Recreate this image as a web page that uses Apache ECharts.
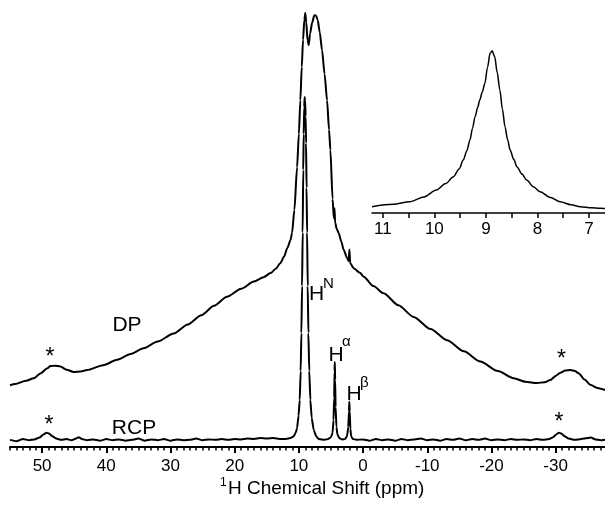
<!DOCTYPE html>
<html>
<head>
<meta charset="utf-8">
<script src="https://cdn.jsdelivr.net/npm/echarts@6/dist/echarts.min.js"></script>
<style>
  html, body { margin: 0; padding: 0; background: #fff; }
  #chart { width: 605px; height: 509px; }
</style>
</head>
<body>
<div id="chart"></div>
<script>
// 1H spectra: DP (offset up) and RCP, values as [ppm, intensity]
const dpSpectrum = [
  [55, 13.8], [54.2, 14.1], [52.5, 14.8], [51.3, 15.4], [50.2, 16.5], [49.2, 17.6],
  [48.7, 18.1], [48.0, 18.2], [47.15, 18.0], [46.2, 17.3], [45.1, 16.8], [44.0, 16.9],
  [43.0, 17.2], [40.5, 18.3], [38.3, 19.5], [36.2, 20.8], [34.2, 22.1], [32, 23.6],
  [29.5, 25.4], [27.3, 27.4], [25.2, 29.5], [23.2, 31.6], [21.2, 33.6], [19.0, 35.4],
  [17.0, 37.0], [15.5, 38.0], [14.4, 38.9], [13.6, 39.9], [12.9, 41.1], [12.3, 42.6],
  [11.8, 44.5], [11.3, 46.3], [11.06, 47.9], [10.7, 53], [10.28, 62.6], [10.0, 70],
  [9.77, 77.6], [9.55, 85], [9.35, 91.1], [9.15, 95.5], [9.0, 97.1], [8.85, 95],
  [8.65, 91], [8.47, 89.9], [8.25, 92.5], [7.94, 94.9], [7.59, 96.6], [7.3, 96.5],
  [7.07, 95.5], [6.75, 92.8], [6.39, 88.8], [6.0, 83.5], [5.61, 77.6], [5.3, 71],
  [5.09, 66.4], [4.75, 55.5], [4.55, 51.2], [4.45, 53.4], [4.35, 50.2], [4.1, 48.8],
  [3.8, 47.9], [3.4, 46], [3.02, 44.1], [2.49, 42.3], [2.25, 41.6], [2.13, 44.2],
  [2.0, 41.1], [1.46, 40.0], [0.5, 39.0], [-0.09, 38.1], [-1.6, 36.0], [-3.2, 34.4],
  [-5.5, 31.7], [-7.88, 29.1], [-10.5, 26.4], [-13.08, 23.9], [-15.7, 21.4], [-18.27, 19.1],
  [-21, 17.0], [-23.46, 15.4], [-25.3, 14.6], [-27.1, 14.3], [-28.3, 14.5], [-29.18, 15.0],
  [-30.0, 15.9], [-30.74, 16.6], [-31.5, 17.1], [-32.3, 17.2], [-33.0, 17.0], [-33.58, 16.5],
  [-34.5, 15.1], [-35.4, 13.9], [-36.5, 13.2], [-37.7, 12.8], [-38, 12.7]
];

const rcpSpectrum = [
  [55, 1.6], [54, 1.3], [53, 1.8], [52, 1.5], [51.2, 1.7], [50.4, 2.1], [49.8, 2.8],
  [49.3, 3.2], [48.9, 3.0], [48.4, 2.4], [47.8, 1.9], [47.0, 1.6], [46.2, 1.8], [45.4, 1.5],
  [44.7, 1.9], [44.3, 2.2], [43.8, 1.8], [43.0, 1.5], [42.0, 1.7], [41.0, 1.4], [40.0, 1.8],
  [39.0, 1.5], [38.0, 1.7], [37.0, 1.4], [36.0, 1.6], [35.0, 1.9], [34.0, 1.4], [33.0, 1.7],
  [32.0, 1.5], [31.0, 1.8], [30.0, 1.4], [29.0, 1.7], [28.0, 1.5], [27.0, 1.6], [26.0, 1.9],
  [25.0, 1.5], [24.0, 1.7], [23.0, 1.6], [22.0, 1.8], [21.0, 1.6], [20.0, 1.8], [19.0, 1.7],
  [18.0, 1.9], [17.0, 1.8], [16.0, 2.0], [15.0, 1.9], [14.0, 2.0], [13.0, 1.8], [12.0, 1.8],
  [11.3, 2.0], [10.8, 2.4], [10.5, 3.2], [10.28, 4.2], [10.05, 7], [9.87, 10.5], [9.72, 17],
  [9.61, 25.5], [9.5, 36], [9.41, 48], [9.32, 62], [9.25, 70], [9.17, 76], [9.1, 78.3],
  [9.03, 77.5], [8.95, 74], [8.88, 68], [8.8, 58], [8.72, 48], [8.62, 36], [8.52, 25.5],
  [8.38, 17], [8.21, 10.5], [8.0, 6.5], [7.69, 3.8], [7.3, 2.4], [6.92, 1.8], [6.0, 1.6],
  [5.4, 1.8], [5.0, 2.2], [4.75, 3.2], [4.6, 6], [4.5, 11], [4.44, 17], [4.4, 19],
  [4.35, 15], [4.28, 9], [4.15, 4.5], [4.0, 2.8], [3.7, 2.0], [3.3, 1.7], [2.8, 1.8],
  [2.5, 2.4], [2.3, 4.5], [2.2, 8], [2.14, 10.1], [2.08, 8], [1.98, 4], [1.85, 2.4],
  [1.6, 1.8], [1.0, 1.6], [0, 1.7], [-1, 1.4], [-2, 1.8], [-3, 1.5], [-4, 1.7], [-5, 1.4],
  [-6, 1.8], [-7, 1.5], [-8, 1.7], [-9, 1.9], [-10, 1.5], [-11, 1.7], [-12, 1.4], [-13, 1.8],
  [-14, 1.6], [-15, 1.9], [-16, 1.5], [-17, 1.8], [-18, 1.6], [-19, 1.9], [-20, 1.5],
  [-21, 1.7], [-22, 1.5], [-23, 1.8], [-24, 1.6], [-25, 1.7], [-26, 1.5], [-27, 1.8],
  [-28, 1.6], [-29, 1.8], [-29.6, 2.2], [-30.1, 2.8], [-30.5, 3.2], [-30.9, 3.0], [-31.4, 2.4],
  [-32.0, 1.9], [-33.0, 1.6], [-34.0, 1.8], [-35.0, 2.0], [-35.5, 2.1], [-36.2, 1.7],
  [-37, 1.5], [-38, 1.7]
];

// inset: zoom on the HN line of the DP spectrum
const insetSpectrum = [
  [11.21, 3.6], [10.8, 5.0], [10.48, 6.5], [10.2, 9.3], [9.96, 13.3], [9.78, 17],
  [9.63, 21.0], [9.52, 25.5], [9.44, 30.6], [9.37, 36], [9.31, 42.2], [9.26, 49],
  [9.21, 55.7], [9.16, 61], [9.12, 65.3], [9.07, 70], [9.02, 75.0], [8.97, 84],
  [8.92, 92.3], [8.88, 93.8], [8.83, 90.4], [8.78, 81], [8.73, 71.1], [8.68, 60],
  [8.63, 49.9], [8.58, 42.5], [8.53, 36.4], [8.46, 31], [8.40, 26.8], [8.3, 22.5],
  [8.21, 19.1], [8.08, 15.2], [7.95, 12.3], [7.75, 9.0], [7.56, 6.5], [7.35, 4.8],
  [7.17, 3.6], [6.95, 3.0], [6.79, 2.7], [6.69, 2.6]
];

const mainTicks = [50, 40, 30, 20, 10, 0, -10, -20, -30];
const insetLabels = [11, 10, 9, 8, 7];
const insetTicks = [11, 10.5, 10, 9.5, 9, 8.5, 8, 7.5, 7];

const FONT = "'Liberation Sans', Arial, sans-serif";
const INK = '#000';

const chart = echarts.init(document.getElementById('chart'), null, { renderer: 'canvas' });

function txt(text, x, y, size, align, valign) {
  return {
    type: 'text', x: x, y: y, silent: true,
    style: {
      text: text, fill: INK, font: size + 'px ' + FONT,
      textAlign: align || 'left', textVerticalAlign: valign || 'middle'
    }
  };
}

chart.setOption({
  animation: false,
  backgroundColor: '#fff',
  grid: [
    { left: 10, right: -2, top: 0, bottom: 62, outerBoundsMode: 'none' },
    { left: 372, right: 0, top: 40, bottom: 296, outerBoundsMode: 'none' }
  ],
  xAxis: [
    {
      gridIndex: 0, type: 'value', min: -38, max: 55, inverse: true, position: 'bottom',
      axisLine: { show: true, onZero: false, lineStyle: { color: INK, width: 2 } },
      axisTick: { show: true, customValues: mainTicks, length: 6, lineStyle: { color: INK, width: 2 } },
      axisLabel: { customValues: mainTicks, margin: 11, fontSize: 17, color: INK, fontFamily: FONT },
      splitLine: { show: false }
    },
    {
      gridIndex: 0, type: 'value', min: -38, max: 55, interval: 1, inverse: true, position: 'bottom',
      axisLine: { show: false, onZero: false },
      axisTick: { show: true, length: 3.5, lineStyle: { color: INK, width: 1.5 } },
      axisLabel: { show: false },
      splitLine: { show: false }
    },
    {
      gridIndex: 1, type: 'value', min: 6.69, max: 11.21, inverse: true, position: 'bottom',
      axisLine: { show: true, onZero: false, lineStyle: { color: INK, width: 1.5 } },
      axisTick: { show: true, customValues: insetTicks, length: 5, lineStyle: { color: INK, width: 1.5 } },
      axisLabel: { customValues: insetLabels, margin: 8, fontSize: 17, color: INK, fontFamily: FONT },
      splitLine: { show: false }
    }
  ],
  yAxis: [
    { gridIndex: 0, type: 'value', min: 0, max: 100, show: false },
    { gridIndex: 1, type: 'value', min: 0, max: 100, show: false }
  ],
  series: [
    {
      name: 'DP', type: 'line', xAxisIndex: 0, yAxisIndex: 0, data: dpSpectrum,
      symbol: 'none', smooth: 0.25, smoothMonotone: 'x',
      lineStyle: { color: INK, width: 2 }
    },
    {
      name: 'RCP', type: 'line', xAxisIndex: 0, yAxisIndex: 0, data: rcpSpectrum,
      symbol: 'none', smooth: 0.15, smoothMonotone: 'x',
      lineStyle: { color: INK, width: 2 }
    },
    {
      name: 'inset', type: 'line', xAxisIndex: 2, yAxisIndex: 1, data: insetSpectrum,
      symbol: 'none', smooth: 0.3, smoothMonotone: 'x',
      lineStyle: { color: INK, width: 1.5 }
    }
  ],
  graphic: [
    txt('DP', 127, 325, 21, 'center'),
    txt('RCP', 134, 428, 21, 'center'),
    txt('H', 309, 294, 21), txt('N', 323, 284, 15),
    txt('H', 328.5, 355, 21), txt('\u03b1', 342, 342, 15),
    txt('H', 346.5, 394.5, 21), txt('\u03b2', 360, 383, 15),
    txt('*', 50, 358, 23, 'center'),
    txt('*', 49, 426, 23, 'center'),
    txt('*', 561.5, 360, 23, 'center'),
    txt('*', 559, 423, 23, 'center'),
    txt('1', 220, 483, 12),
    txt('H Chemical Shift (ppm)', 228, 489, 19)
  ]
});
</script>
</body>
</html>
